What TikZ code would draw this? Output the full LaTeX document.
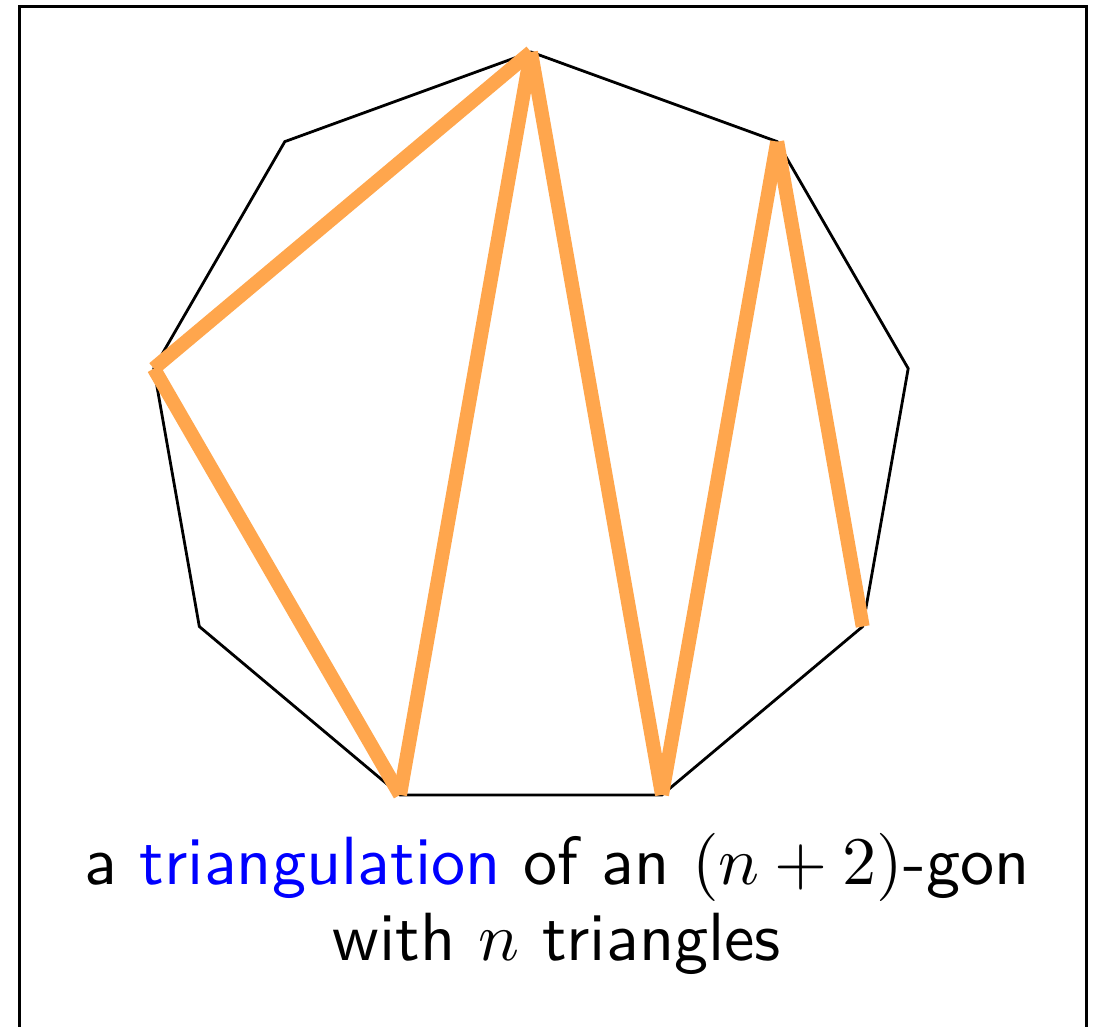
\documentclass[tikz,border=0pt]{standalone}
\usepackage{graphicx}
\definecolor{tri}{RGB}{255,166,77}
\begin{document}
\begin{tikzpicture}[x=1pt,y=-1pt,
  frame/.style={line width=3pt,black},
  poly/.style={line width=2.8pt,black,line join=miter},
  diag/.style={line width=14pt,tri,line cap=butt},
  caption/.style={anchor=base,inner sep=0pt,font=\sffamily}]
\useasboundingbox (0,0) rectangle (1094,1026);
\clip (0,0) rectangle (1094,1026);
\draw[frame] (19.5,6.5) rectangle (1086,1100);
\foreach \i in {0,...,8}
  \coordinate (v\i) at ({531+383*cos(90-40*\i)},{435-383*sin(90-40*\i)});
\draw[poly] (v0)--(v1)--(v2)--(v3)--(v4)--(v5)--(v6)--(v7)--(v8)--cycle;
\draw[diag] (v0)--(v7);
\draw[diag] (v7)--(v5);
\draw[diag] (v5)--(v0);
\draw[diag] (v0)--(v4);
\draw[diag] (v4)--(v1);
\draw[diag] (v1)--(v3);
\node[caption] (t1) at (557,884) {\scalebox{6.82}{a \textcolor{blue}{triangulation} of an $(n+2)$-gon}};
\node[caption] (t2) at (557,960) {\scalebox{6.82}{with $n$ triangles}};
\end{tikzpicture}
\end{document}
